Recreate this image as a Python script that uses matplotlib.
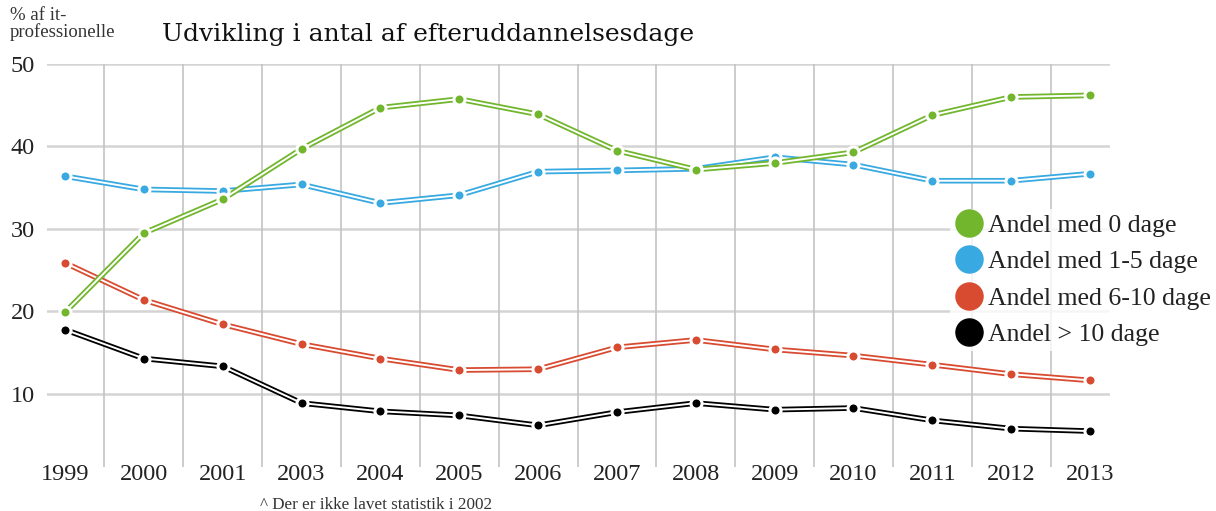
import numpy as np
import matplotlib
matplotlib.use('Agg')
import matplotlib.pyplot as plt
from matplotlib.lines import Line2D

years = ['1999', '2000', '2001', '2003', '2004', '2005', '2006',
         '2007', '2008', '2009', '2010', '2011', '2012', '2013']
andel_0 = [19.9, 29.5, 33.6, 39.7, 44.7, 45.75, 43.9, 39.5, 37.2, 38.0, 39.3, 43.8, 46.0, 46.2]
andel_1_5 = [36.4, 34.8, 34.6, 35.4, 33.15, 34.1, 36.95, 37.1, 37.3, 38.7, 37.8, 35.85, 35.85, 36.7]
andel_6_10 = [25.9, 21.4, 18.45, 16.05, 14.3, 12.9, 13.0, 15.65, 16.55, 15.4, 14.65, 13.55, 12.4, 11.65]
andel_10 = [17.8, 14.3, 13.35, 8.9, 7.9, 7.4, 6.2, 7.8, 8.9, 8.1, 8.3, 6.8, 5.8, 5.5]

series = [
    ('Andel med 0 dage', andel_0, '#72b62e'),
    ('Andel med 1-5 dage', andel_1_5, '#38a9e1'),
    ('Andel med 6-10 dage', andel_6_10, '#d84b30'),
    ('Andel > 10 dage', andel_10, '#000000'),
]

FONT = 'Liberation Serif'
plt.rcParams['font.family'] = FONT

fig = plt.figure(figsize=(12.16, 5.11), dpi=100)
ax = fig.add_axes([47 / 1216, 1 - 467 / 511, (1110 - 47) / 1216, (467 - 64) / 511])

x = np.arange(len(years))
# draw bottom-up so green ends on top
for name, vals, col in reversed(series):
    ax.plot(x, vals, color=col, lw=4.0, solid_capstyle='butt', zorder=3)
    ax.plot(x, vals, color='white', lw=1.4, solid_capstyle='butt', zorder=3)
    ax.plot(x, vals, ls='none', marker='o', ms=8, mfc=col, mec='white', mew=2.2, zorder=4)

ax.set_xlim(-0.228, 13.253)
ax.set_ylim(1.15, 50)

ax.set_yticks([10, 20, 30, 40, 50])
ax.set_xticks(x)
ax.set_xticklabels(years)
ax.tick_params(axis='both', length=0, labelsize=17.5, colors='#222222')
ax.tick_params(axis='y', pad=26)
ax.tick_params(axis='x', pad=-2)
for lab in ax.get_yticklabels():
    lab.set_horizontalalignment('left')

for v in [10, 20, 30, 40, 50]:
    ax.axhline(v, color='#d4d4d4', lw=1.8, zorder=1)
for b in np.arange(0.5, len(years) - 1, 1):
    ax.axvline(b, color='#c4c4c4', lw=1.2, zorder=1)

for s in ax.spines.values():
    s.set_visible(False)

handles = [Line2D([], [], ls='none', marker='o', ms=19.5, mfc=col, mec=col) for _, _, col in series]
leg = fig.legend(handles, [s[0] for s in series], loc='upper left',
                 bbox_to_anchor=(937 / 1216, 1 - 196 / 511), frameon=True,
                 fontsize=18.5, handletextpad=0.2, labelspacing=0.52,
                 borderpad=0.2, handlelength=1.1)
leg.get_frame().set_facecolor('white')
leg.get_frame().set_edgecolor('none')
for t in leg.get_texts():
    t.set_color('#222222')

fig.text(10 / 1216, 1 - 7 / 511, '% af it-\nprofessionelle', fontsize=13.5,
         color='#333333', va='top', ha='left', linespacing=0.95)
fig.text(162 / 1216, 1 - 34 / 511, 'Udvikling i antal af efteruddannelsesdage',
         fontsize=18, family='DejaVu Serif', color='#111111', va='center', ha='left')
fig.text(260 / 1216, 1 - 505 / 511, '^ Der er ikke lavet statistik i 2002',
         fontsize=12.3, color='#333333', va='center', ha='left')

fig.savefig('out.png', dpi=100)
